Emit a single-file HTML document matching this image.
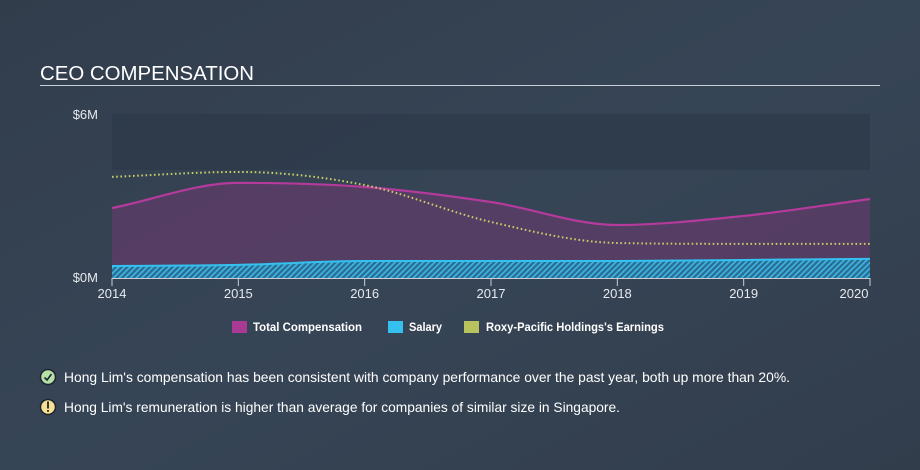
<!DOCTYPE html>
<html><head><meta charset="utf-8"><style>
html,body{margin:0;padding:0;width:920px;height:470px;overflow:hidden;background:#333f4f;}
svg{display:block;font-family:"Liberation Sans",sans-serif;}
</style></head><body>
<svg width="920" height="470" viewBox="0 0 920 470">
<defs>
<linearGradient id="bg" x1="0" y1="0" x2="1" y2="1"><stop offset="0" stop-color="#323d4c"/><stop offset="0.5" stop-color="#364556"/><stop offset="1" stop-color="#323d4c"/></linearGradient>
<pattern id="hatch" width="4" height="4" patternUnits="userSpaceOnUse" patternTransform="rotate(45)"><rect width="4" height="4" fill="#2a6f93"/><rect width="1.6" height="4" fill="#3fb6e6"/></pattern>
</defs>
<rect width="920" height="470" fill="url(#bg)"/>
<text x="40" y="80" fill="#ffffff" font-size="20" textLength="214" lengthAdjust="spacingAndGlyphs">CEO COMPENSATION</text>
<rect x="40" y="85" width="840" height="1" fill="#c9ced6"/>
<rect x="112" y="114" width="758" height="56" fill="#2d3a49" opacity="0.75"/>
<g id="plot"></g>
<text x="98" y="119" fill="#e6e9ee" font-size="13" text-anchor="end">$6M</text>
<text x="98" y="282" fill="#e6e9ee" font-size="13" text-anchor="end">$0M</text>
<g id="xaxis"></g>
<g>
<rect x="232" y="321" width="15" height="12" fill="#a83a94"/>
<text x="253" y="331" fill="#fff" font-size="12" font-weight="bold" textLength="109" lengthAdjust="spacingAndGlyphs">Total Compensation</text>
<rect x="388" y="321" width="15" height="12" fill="#34c1f0"/>
<text x="409" y="331" fill="#fff" font-size="12" font-weight="bold" textLength="33" lengthAdjust="spacingAndGlyphs">Salary</text>
<rect x="464" y="321" width="15" height="12" fill="#b8c35e"/>
<text x="486" y="331" fill="#fff" font-size="12" font-weight="bold" textLength="178" lengthAdjust="spacingAndGlyphs">Roxy-Pacific Holdings's Earnings</text>
</g>
<g>
<circle cx="48" cy="377" r="7.5" fill="#b5e0a6" stroke="#1d2630" stroke-width="1.5"/>
<path d="M44.5 377.5 l2.5 2.5 l4.5 -6" stroke="#1d2630" stroke-width="1.6" fill="none"/>
<text x="64" y="382" fill="#fff" font-size="14" textLength="726" lengthAdjust="spacingAndGlyphs">Hong Lim's compensation has been consistent with company performance over the past year, both up more than 20%.</text>
</g>
<g>
<circle cx="48" cy="407" r="7.5" fill="#f7e08f" stroke="#1d2630" stroke-width="1.5"/>
<rect x="47.1" y="401.5" width="1.8" height="7" fill="#1d2630"/><rect x="47.1" y="410" width="1.8" height="1.8" fill="#1d2630"/>
<text x="64" y="412" fill="#fff" font-size="14" textLength="556" lengthAdjust="spacingAndGlyphs">Hong Lim's remuneration is higher than average for companies of similar size in Singapore.</text>
</g>
</svg>
<script>
const years=[2014,2015,2016,2017,2018,2019,2020];
const totalComp=[2.56,3.48,3.33,2.78,1.94,2.27,2.89];
const salary=[0.44,0.48,0.62,0.62,0.62,0.66,0.70];
const earnings=[3.70,3.88,3.40,2.05,1.28,1.25,1.25];
const yTicks=["$0M","$6M"];
const NS="http://www.w3.org/2000/svg";
const X0=112,X1=870,Y0=278,Y6=114;
const xs=y=>X0+(y-2014)/(2020-2014)*(X1-X0);
const ys=v=>Y0-v/6*(Y0-Y6);
function mono(px,py){const n=px.length,d=[],m=[];for(let i=0;i<n-1;i++)d.push((py[i+1]-py[i])/(px[i+1]-px[i]));
m[0]=d[0];m[n-1]=d[n-2];for(let i=1;i<n-1;i++)m[i]=d[i-1]*d[i]<=0?0:(d[i-1]+d[i])/2;
for(let i=0;i<n-1;i++){if(d[i]===0){m[i]=0;m[i+1]=0;continue;}const a=m[i]/d[i],b=m[i+1]/d[i],s=a*a+b*b;if(s>9){const t=3/Math.sqrt(s);m[i]=t*a*d[i];m[i+1]=t*b*d[i];}}
let p="M"+px[0]+","+py[0];for(let i=0;i<n-1;i++){const h=(px[i+1]-px[i])/3;p+=" C"+(px[i]+h)+","+(py[i]+m[i]*h)+" "+(px[i+1]-h)+","+(py[i+1]-m[i+1]*h)+" "+px[i+1]+","+py[i+1];}return p;}
const plot=document.getElementById('plot');
function mk(tag,attrs){const e=document.createElementNS(NS,tag);for(const k in attrs)e.setAttribute(k,attrs[k]);plot.appendChild(e);return e;}
const px=years.map(xs);
const tp=mono(px,totalComp.map(ys));
let e=mk('path',{d:tp+` L${X1},${Y0} L${X0},${Y0} Z`,fill:'#6a3a6e',opacity:'0.6'});


const sp=mono(px,salary.map(ys));
e=mk('path',{d:sp+` L${X1},${Y0} L${X0},${Y0} Z`,fill:'url(#hatch)'});


e=mk('path',{d:sp,fill:'none',stroke:'#34c1f0','stroke-width':2});


e=mk('path',{d:tp,fill:'none',stroke:'#b43a9c','stroke-width':2.2});


e=mk('path',{d:mono(px,earnings.map(ys)),fill:'none',stroke:'#c8cf6a','stroke-width':2,'stroke-dasharray':'1.6 2.6'});


const xa=document.getElementById('xaxis');
const ax=document.createElementNS(NS,'line');
ax.setAttribute('x1',X0);ax.setAttribute('x2',X1);ax.setAttribute('y1',Y0+0.5);ax.setAttribute('y2',Y0+0.5);ax.setAttribute('stroke','#c9ced6');


xa.appendChild(ax);
years.forEach((y,i)=>{const x=xs(y);
const t=document.createElementNS(NS,'line');t.setAttribute('x1',x);t.setAttribute('x2',x);t.setAttribute('y1',Y0);t.setAttribute('y2',Y0+8);t.setAttribute('stroke','#c9ced6');


xa.appendChild(t);
const tx=document.createElementNS(NS,'text');tx.setAttribute('x',i===years.length-1?x-16:x);tx.setAttribute('y',Y0+20);tx.setAttribute('fill','#e6e9ee');tx.setAttribute('font-size','13');tx.setAttribute('text-anchor','middle');tx.textContent=y;


xa.appendChild(tx);});
</script>
</body></html>
